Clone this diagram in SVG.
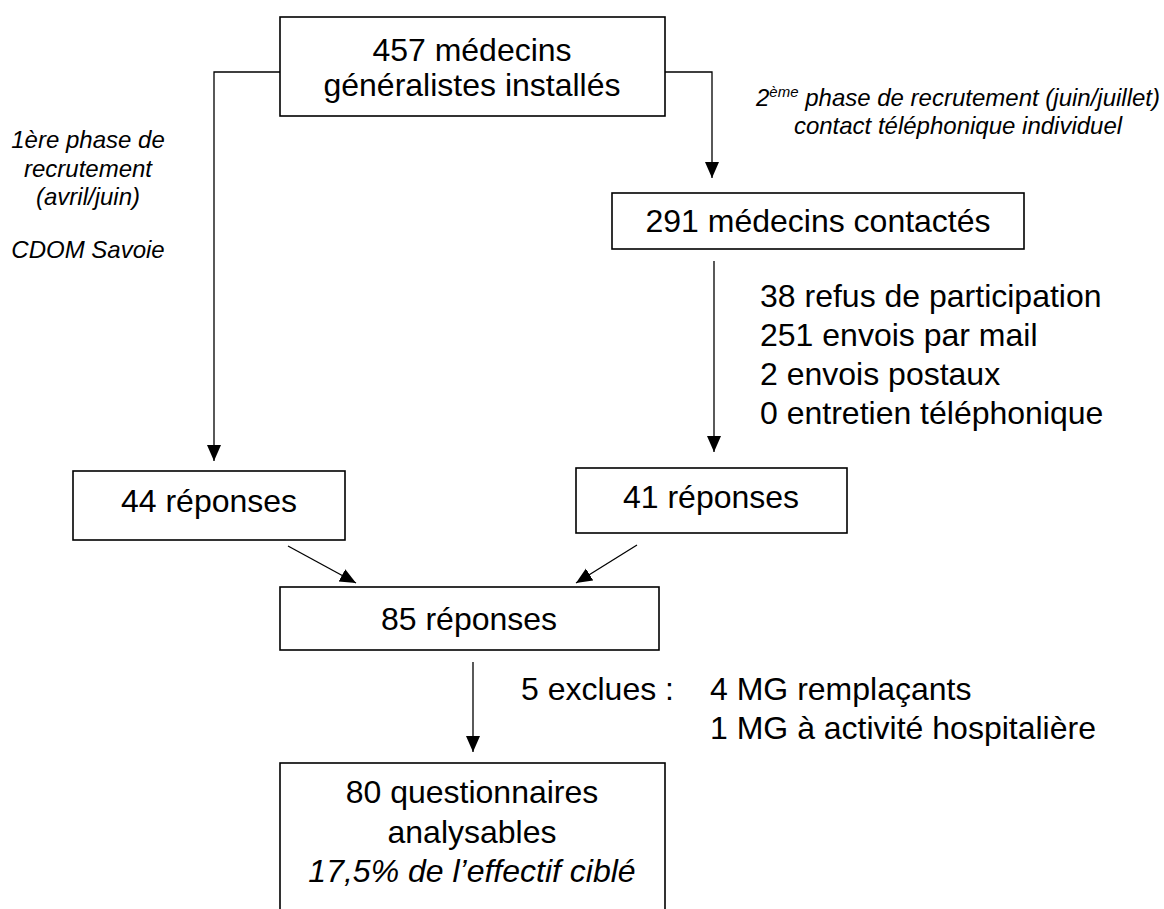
<svg xmlns="http://www.w3.org/2000/svg" width="1164" height="909" viewBox="0 0 1164 909">
<style>
text{font-family:"Liberation Sans",Arial,Helvetica,sans-serif;fill:#000}
.t{font-size:32px}
.c{text-anchor:middle}
.i{font-size:24px;font-style:italic}
.box{fill:#fff;stroke:#000;stroke-width:1.6}
.ln{fill:none;stroke:#000;stroke-width:1.3}
</style>
<defs>
<marker id="ah" markerUnits="userSpaceOnUse" markerWidth="17" markerHeight="15" refX="16" refY="7" orient="auto">
<path d="M0,0 L16,7 L0,14 z" fill="#000"/>
</marker>
</defs>
<rect width="1164" height="909" fill="#fff"/>

<g id="connectors">
<polyline class="ln" points="280,72 214,72 214,461" marker-end="url(#ah)"/>
<polyline class="ln" points="665,72 712,72 712,178" marker-end="url(#ah)"/>
<line class="ln" x1="714" y1="261" x2="714" y2="452" marker-end="url(#ah)"/>
<line class="ln" x1="288" y1="546" x2="356" y2="583" marker-end="url(#ah)"/>
<line class="ln" x1="637" y1="545" x2="576" y2="583" marker-end="url(#ah)"/>
<line class="ln" x1="473" y1="662" x2="473" y2="752" marker-end="url(#ah)"/>
</g>

<g id="n-457">
<rect class="box" x="280" y="17" width="385" height="99"/>
<text class="t c" x="472" y="61">457 médecins</text>
<text class="t c" x="472" y="96">généralistes installés</text>
</g>

<g id="label-phase1">
<text class="i c" x="88" y="148">1ère phase de</text>
<text class="i c" x="88" y="177">recrutement</text>
<text class="i c" x="88" y="205">(avril/juin)</text>
<text class="i c" x="88" y="258">CDOM Savoie</text>
</g>

<g id="label-phase2">
<text class="i c" x="958" y="106">2<tspan font-size="15" dy="-9">ème</tspan><tspan dy="9"> phase de recrutement (juin/juillet)</tspan></text>
<text class="i c" x="958" y="134">contact téléphonique individuel</text>
</g>

<g id="n-291">
<rect class="box" x="612" y="193" width="412" height="56"/>
<text class="t c" x="818" y="232">291 médecins contactés</text>
</g>

<g id="label-contact">
<text class="t" x="760" y="307">38 refus de participation</text>
<text class="t" x="760" y="346">251 envois par mail</text>
<text class="t" x="760" y="385">2 envois postaux</text>
<text class="t" x="760" y="424">0 entretien téléphonique</text>
</g>

<g id="n-44">
<rect class="box" x="73" y="471" width="272" height="69" stroke-width="2"/>
<text class="t c" x="209" y="512">44 réponses</text>
</g>

<g id="n-41">
<rect class="box" x="576" y="468" width="271" height="65" stroke-width="2"/>
<text class="t c" x="711" y="508">41 réponses</text>
</g>

<g id="n-85">
<rect class="box" x="280" y="587" width="379" height="63"/>
<text class="t c" x="469" y="630">85 réponses</text>
</g>

<g id="label-exclus">
<text class="t" x="521" y="700">5 exclues :</text>
<text class="t" x="710" y="700">4 MG remplaçants</text>
<text class="t" x="710" y="739">1 MG à activité hospitalière</text>
</g>

<g id="n-80">
<rect class="box" x="280" y="763" width="385" height="160"/>
<text class="t c" x="472" y="803">80 questionnaires</text>
<text class="t c" x="472" y="843">analysables</text>
<text class="t c" x="472" y="882" font-style="italic">17,5% de l’effectif ciblé</text>
</g>
</svg>
